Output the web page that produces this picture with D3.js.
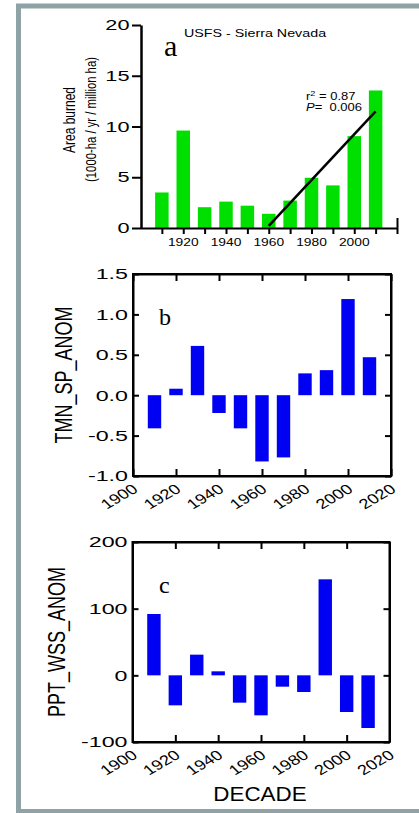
<!DOCTYPE html>
<html>
<head>
<meta charset="utf-8">
<script src="https://cdn.jsdelivr.net/npm/d3@7"></script>
<style>
  body { margin: 0; background: #fff; }
  svg { display: block; }
</style>
</head>
<body>
<div id="chart"></div>
<script>
// Decades (bar centres)
var decades = [1910, 1920, 1930, 1940, 1950, 1960, 1970, 1980, 1990, 2000, 2010];

// a: area burned (1000-ha / yr / million ha)
var areaBurned = [3.5, 9.6, 2.05, 2.6, 2.2, 1.4, 2.7, 4.95, 4.2, 9.05, 13.55];
// fitted trend line 1960-2010
var trendYears = [1960, 2010];
var trendValues = [0.2, 11.5];

// b: spring minimum temperature anomaly
var tmnAnom = [-0.41, 0.08, 0.61, -0.22, -0.41, -0.82, -0.77, 0.27, 0.31, 1.19, 0.47];

// c: winter / spring precipitation anomaly
var pptAnom = [92, -45, 31, 6, -41, -60, -17, -25, 144, -55, -79];

// tick values
var aTicksY = [0, 5, 10, 15, 20];
var aTicksX = [1910, 1920, 1930, 1940, 1950, 1960, 1970, 1980, 1990, 2000, 2010, 2020];
var aLabelsX = [1920, 1940, 1960, 1980, 2000];
var bTicksY = [-1.0, -0.5, 0.0, 0.5, 1.0, 1.5];
var cTicksY = [-100, 0, 100, 200];
var bcTicksX = [1900, 1920, 1940, 1960, 1980, 2000, 2020];

var width = 419, height = 813;
var sans = "'Liberation Sans', Arial, Helvetica, sans-serif";
var serif = "'Liberation Serif', 'Times New Roman', serif";

var svg = d3.select('#chart').append('svg')
    .attr('width', width)
    .attr('height', height);

// Outer frame
svg.append('rect')
   .attr('x', 18.5).attr('y', 6)
   .attr('width', 420).attr('height', 805.5)
   .style('fill', 'none')
   .style('stroke', '#8fa3a6')
   .style('stroke-width', 5);

// Text helper: the figure's lettering is stretched horizontally
function addText(g, str, x, y, o) {
  var t = g.append('text')
      .attr('transform', 'translate(' + x + ',' + y + ') scale(' + (o.sx || 1) + ',1)' +
            (o.rotate ? ' rotate(' + o.rotate + ')' : ''))
      .attr('text-anchor', o.anchor || 'start')
      .attr('dy', o.dy || null)
      .style('font-family', o.family || sans)
      .style('font-size', o.size + 'px')
      .style('fill', '#000')
      .text(str);
  return t;
}

function styleAxis(g) {
  g.select('.domain').style('stroke', '#000').style('stroke-width', 2);
  g.selectAll('.tick line').style('stroke', '#000').style('stroke-width', 2);
}

// ---------------- Panel a ----------------
var xa = d3.scaleLinear().domain([1900, 2020]).range([140.5, 397]);
var ya = d3.scaleLinear().domain([0, 20]).range([228, 25]);
var ga = svg.append('g');

ga.selectAll('rect.bar')
  .data(decades)
  .enter().append('rect')
  .attr('class', 'bar')
  .attr('x', function(d) { return xa(d) - 6.75; })
  .attr('width', 13.5)
  .attr('y', function(d, i) { return ya(areaBurned[i]); })
  .attr('height', function(d, i) { return ya(0) - ya(areaBurned[i]); })
  .style('fill', '#00e000');

var axA = ga.append('g')
    .attr('transform', 'translate(141,0)')
    .call(d3.axisLeft(ya).tickValues(aTicksY).tickSize(9).tickSizeOuter(0).tickFormat(''));
styleAxis(axA);
axA.select('.domain').style('stroke-width', 2.5);

var axAx = ga.append('g')
    .attr('transform', 'translate(0,228)')
    .call(d3.axisBottom(xa).tickValues(aTicksX).tickSize(6).tickSizeOuter(0).tickFormat(''));
styleAxis(axAx);
axAx.selectAll('.tick').filter(function(d) { return d === 2020; })
    .select('line').attr('y1', -10);

aTicksY.forEach(function(d) {
  addText(ga, d, 129.5, ya(d), {size: 14.5, sx: 1.5, anchor: 'end', dy: '0.36em'});
});
aLabelsX.forEach(function(d) {
  addText(ga, d, xa(d), 246, {size: 11.5, sx: 1.2, anchor: 'middle'});
});

// trend line
ga.append('line')
  .attr('x1', xa(trendYears[0])).attr('y1', ya(trendValues[0]))
  .attr('x2', xa(trendYears[1])).attr('y2', ya(trendValues[1]))
  .style('stroke', '#000')
  .style('stroke-width', 2.5);

var r2 = addText(ga, 'r', 306, 99.5, {size: 10, sx: 1.3});
r2.append('tspan').attr('dy', -4).style('font-size', '7px').text('2');
r2.append('tspan').attr('dy', 4).text(' = 0.87');
var pv = addText(ga, '', 306, 111, {size: 10, sx: 1.3});
pv.append('tspan').style('font-style', 'italic').text('P');
pv.append('tspan').attr('xml:space', 'preserve').text('=  0.006');

addText(ga, 'USFS - Sierra Nevada', 255, 36.5, {size: 11, sx: 1.3, anchor: 'middle'});
addText(ga, 'a', 164, 56, {size: 30, family: serif});

addText(ga, 'Area burned', 75, 120, {size: 12, sx: 1.3, anchor: 'middle', rotate: -90});
addText(ga, '(1000-ha / yr / million ha)', 95.5, 119.5, {size: 11.3, sx: 1.3, anchor: 'middle', rotate: -90});

// ---------------- Panels b and c ----------------
function anomalyPanel(values, xr, yDomain, yr, yTicks, fmt, letter, ylabel, ylabelX) {
  var x = d3.scaleLinear().domain([1900, 2020]).range(xr);
  var y = d3.scaleLinear().domain(yDomain).range(yr);
  var g = svg.append('g');

  g.selectAll('rect.bar')
    .data(decades)
    .enter().append('rect')
    .attr('class', 'bar')
    .attr('x', function(d) { return x(d) - 6.7; })
    .attr('width', 13.4)
    .attr('y', function(d, i) { return y(Math.max(values[i], 0)); })
    .attr('height', function(d, i) { return Math.abs(y(values[i]) - y(0)); })
    .style('fill', '#0000f2');

  g.append('rect')
    .attr('x', xr[0]).attr('y', yr[1])
    .attr('width', xr[1] - xr[0]).attr('height', yr[0] - yr[1])
    .style('fill', 'none').style('stroke', '#000').style('stroke-width', 2);

  styleAxis(g.append('g').attr('transform', 'translate(' + xr[0] + ',0)')
    .call(d3.axisLeft(y).tickValues(yTicks).tickSizeInner(-6).tickSizeOuter(0).tickFormat('')));
  styleAxis(g.append('g').attr('transform', 'translate(' + xr[1] + ',0)')
    .call(d3.axisRight(y).tickValues(yTicks).tickSizeInner(-6).tickSizeOuter(0).tickFormat('')));
  styleAxis(g.append('g').attr('transform', 'translate(0,' + yr[1] + ')')
    .call(d3.axisTop(x).tickValues(bcTicksX).tickSizeInner(-7).tickSizeOuter(0).tickFormat('')));
  styleAxis(g.append('g').attr('transform', 'translate(0,' + yr[0] + ')')
    .call(d3.axisBottom(x).tickValues(bcTicksX).tickSizeInner(-7).tickSizeOuter(0).tickFormat('')));

  yTicks.forEach(function(d) {
    addText(g, fmt(d), xr[0] - 5, y(d), {size: 15, sx: 1.55, anchor: 'end', dy: '0.36em'});
  });
  bcTicksX.forEach(function(d) {
    addText(g, d, x(d) + 6, yr[0] + 15, {size: 14, sx: 1.3, anchor: 'end', rotate: -37});
  });

  addText(g, letter, 159, yr[1] + 51, {size: 24, family: serif});
  addText(g, ylabel, ylabelX, (yr[0] + yr[1]) / 2, {size: 18, sx: 1.35, anchor: 'middle', rotate: -90});
  return g;
}

anomalyPanel(tmnAnom, [133, 391], [-1, 1.5], [476, 274], bTicksY,
             function(d) { return d.toFixed(1); }, 'b', 'TMN_SP_ANOM', 72);
anomalyPanel(pptAnom, [132.5, 389.5], [-100, 200], [742, 542], cTicksY,
             function(d) { return String(d); }, 'c', 'PPT_WSS_ANOM', 65);

addText(svg, 'DECADE', 260, 801, {size: 20, sx: 1.12, anchor: 'middle'});
</script>
</body>
</html>
